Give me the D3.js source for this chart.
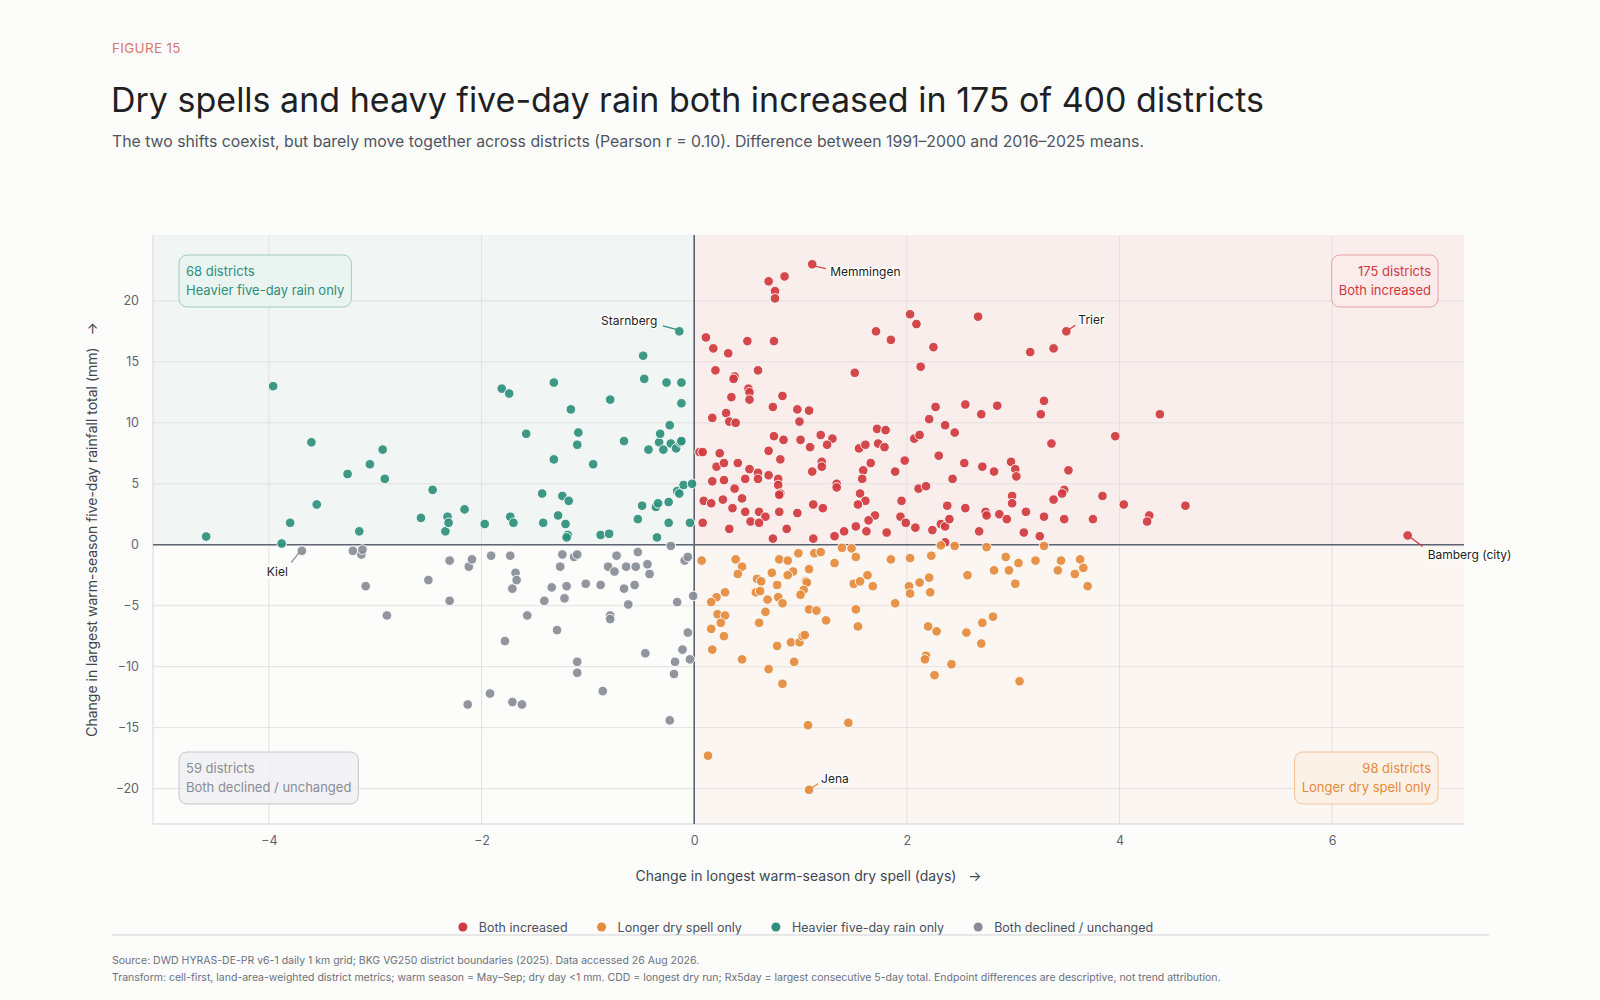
<!DOCTYPE html>
<html><head><meta charset="utf-8">
<script src="https://cdn.jsdelivr.net/npm/d3@7"></script>
<style>
body{margin:0;background:#fcfcfb;font-family:Inter,"Noto Sans",sans-serif;}
</style></head>
<body><div id="chart"></div>
<script>
// x = change in longest dry spell (days), y = change in Rx5day (mm)
var bothIncreased = [
 [1.11,23.0],[0.70,21.6],[0.85,22.0],[0.76,20.8],[0.76,20.2],[2.03,18.9],[2.09,18.1],[2.67,18.7],[0.11,17.0],[0.50,16.7],
 [0.75,16.7],[1.71,17.5],[1.85,16.8],[3.50,17.5],[0.18,16.1],[0.32,15.7],[2.25,16.2],[3.16,15.8],[3.38,16.1],[0.20,14.3],
 [2.13,14.6],[0.60,14.3],[1.51,14.1],[0.38,13.8],[0.37,13.6],[0.51,12.8],[0.52,12.5],[0.52,11.9],[0.35,12.1],[0.83,12.2],
 [0.74,11.3],[0.97,11.1],[1.08,11.0],[0.99,10.1],[0.17,10.4],[0.30,10.8],[0.33,10.1],[0.39,10.0],[2.27,11.3],[2.55,11.5],
 [2.85,11.4],[3.29,11.8],[3.26,10.7],[2.70,10.7],[2.21,10.3],[2.36,9.8],[2.45,9.2],[1.19,9.0],[1.30,8.7],[1.72,9.5],
 [1.80,9.4],[0.75,8.9],[0.84,8.6],[1.00,8.6],[1.09,8.0],[1.25,8.2],[1.55,7.9],[1.61,8.2],[1.73,8.3],[1.79,8.0],
 [2.07,8.7],[2.12,9.0],[3.36,8.3],[0.05,7.6],[0.08,7.6],[0.24,7.5],[0.70,7.7],[0.81,7.0],[0.21,6.4],[0.28,6.7],
 [0.41,6.7],[0.52,6.2],[0.60,5.9],[1.20,6.8],[1.20,6.4],[1.59,6.1],[1.66,6.7],[1.98,6.9],[1.89,6.0],[2.30,7.3],
 [2.54,6.7],[2.71,6.4],[2.82,6.0],[2.98,6.8],[3.02,6.2],[3.03,5.6],[3.52,6.1],[0.17,5.2],[0.28,5.3],[0.48,5.4],
 [0.60,5.4],[0.70,5.7],[0.79,5.4],[1.11,6.0],[1.58,5.4],[2.43,5.4],[1.34,5.0],[1.34,4.7],[0.79,4.9],[0.81,4.2],
 [0.80,4.1],[0.38,4.6],[2.11,4.6],[2.18,4.8],[3.48,4.5],[3.46,4.2],[3.38,3.7],[2.99,4.0],[2.99,3.4],[0.09,3.6],
 [0.16,3.4],[0.27,3.7],[0.45,3.8],[0.36,3.0],[0.48,2.7],[0.61,2.7],[0.67,2.3],[0.53,1.9],[0.61,1.8],[0.08,1.8],
 [0.33,1.3],[0.80,2.7],[0.87,1.3],[0.97,2.6],[1.12,3.3],[1.21,3.0],[1.56,4.2],[1.61,3.6],[1.54,3.3],[1.70,2.4],
 [1.64,2.0],[1.95,3.6],[1.94,2.3],[1.99,1.8],[2.08,1.4],[2.24,1.2],[2.32,1.7],[2.36,1.5],[2.40,2.1],[2.38,3.2],
 [2.55,3.0],[2.74,2.7],[2.75,2.4],[2.87,2.5],[2.94,2.1],[3.12,2.7],[3.29,2.3],[3.48,2.1],[2.68,1.1],[3.10,1.0],
 [3.25,0.7],[1.41,1.1],[1.52,1.5],[1.62,1.1],[1.81,1.0],[0.74,0.5],[1.12,0.5],[1.32,0.7],[2.36,0.2],[3.84,4.0],
 [3.75,2.1],[3.96,8.9],[4.04,3.3],[4.28,2.4],[4.26,1.9],[4.38,10.7],[4.62,3.2],[6.71,0.76]
];
var longerDryOnly = [
 [0.07,-1.3],[0.39,-1.2],[0.45,-1.8],[0.41,-2.4],[0.29,-3.9],[0.21,-4.3],[0.16,-4.7],[0.22,-5.7],[0.29,-5.8],[0.25,-6.4],
 [0.16,-6.9],[0.28,-7.5],[0.17,-8.6],[0.45,-9.4],[0.13,-17.3],[0.80,-1.2],[0.88,-1.3],[0.98,-0.7],[1.13,-0.7],[1.19,-0.6],
 [1.39,-0.25],[1.48,-0.3],[1.52,-1.0],[1.32,-1.5],[1.08,-2.0],[0.93,-2.2],[0.88,-2.5],[0.73,-2.3],[0.59,-2.8],[0.63,-3.0],
 [0.78,-3.3],[1.05,-3.0],[1.06,-3.1],[1.03,-3.7],[1.00,-4.1],[0.58,-3.9],[0.62,-3.8],[0.69,-4.5],[0.79,-4.3],[0.83,-4.8],
 [0.67,-5.5],[0.61,-6.4],[1.08,-5.3],[1.15,-5.4],[1.24,-6.2],[1.52,-5.3],[1.54,-6.7],[1.50,-3.2],[1.56,-3.0],[1.63,-2.5],
 [1.68,-3.4],[1.89,-4.8],[1.85,-1.2],[2.03,-1.1],[2.23,-0.9],[2.45,-0.1],[2.32,-0.05],[2.75,-0.2],[3.29,-0.1],[2.21,-2.7],
 [2.12,-3.1],[2.02,-3.4],[2.03,-4.0],[2.22,-3.9],[2.57,-2.5],[2.82,-2.1],[2.93,-1.0],[2.96,-2.1],[3.05,-1.5],[3.02,-3.2],
 [3.21,-1.3],[3.45,-1.3],[3.42,-2.1],[2.20,-6.7],[2.28,-7.1],[2.56,-7.2],[2.71,-6.4],[2.81,-5.9],[2.70,-8.1],[2.18,-9.1],
 [2.17,-9.4],[2.26,-10.7],[2.42,-9.8],[3.06,-11.2],[0.78,-8.3],[0.91,-8.0],[0.99,-8.0],[1.02,-7.5],[1.04,-7.4],[0.94,-9.6],
 [0.70,-10.2],[0.83,-11.4],[1.07,-14.8],[1.45,-14.6],[1.08,-20.1],[3.63,-1.2],[3.58,-2.4],[3.66,-1.9],[3.70,-3.4]
];
var heavierRainOnly = [
 [-4.59,0.67],[-3.96,13.0],[-3.88,0.1],[-3.80,1.8],[-3.60,8.4],[-3.55,3.3],[-3.26,5.8],[-3.15,1.1],[-3.05,6.6],[-2.93,7.8],
 [-2.91,5.4],[-2.57,2.2],[-2.46,4.5],[-2.34,1.1],[-2.32,2.3],[-2.31,1.8],[-2.16,2.9],[-1.97,1.7],[-1.81,12.8],[-1.74,12.4],
 [-1.73,2.3],[-1.70,1.8],[-1.58,9.1],[-1.43,4.2],[-1.42,1.8],[-1.32,13.3],[-1.32,7.0],[-1.28,2.4],[-1.24,4.0],[-1.21,1.7],
 [-1.19,0.8],[-1.18,3.6],[-1.16,11.1],[-1.10,8.2],[-1.09,9.2],[-0.95,6.6],[-0.88,0.8],[-0.79,11.9],[-0.66,8.5],[-0.53,2.1],
 [-0.49,3.2],[-0.48,15.5],[-0.47,13.6],[-0.43,7.8],[-0.36,3.1],[-0.35,0.6],[-0.34,3.4],[-0.33,8.4],[-0.32,9.1],[-0.29,7.8],
 [-0.26,13.3],[-0.24,3.5],[-0.24,1.8],[-0.23,9.8],[-0.22,8.3],[-0.17,7.9],[-0.16,4.4],[-0.14,17.5],[-0.14,4.2],[-0.13,8.4],
 [-0.12,13.3],[-0.12,11.6],[-0.12,8.5],[-0.10,4.9],[-0.04,1.8],[-0.02,5.0],[-1.20,0.6],[-0.80,0.9]
];
var bothDeclined = [
 [-3.69,-0.5],[-3.21,-0.5],[-3.13,-0.8],[-3.12,-0.4],[-3.09,-3.4],[-2.89,-5.8],[-2.50,-2.9],[-2.30,-1.3],[-2.30,-4.6],[-2.12,-1.8],
 [-2.09,-1.2],[-2.13,-13.1],[-1.91,-0.9],[-1.92,-12.2],[-1.78,-7.9],[-1.73,-0.9],[-1.71,-3.6],[-1.71,-12.9],[-1.68,-2.3],[-1.67,-2.9],
 [-1.62,-13.1],[-1.57,-5.8],[-1.41,-4.6],[-1.34,-3.5],[-1.29,-7.0],[-1.26,-1.8],[-1.24,-0.8],[-1.22,-4.4],[-1.20,-3.4],[-1.13,-1.0],
 [-1.10,-0.8],[-1.10,-9.6],[-1.10,-10.5],[-1.02,-3.2],[-0.88,-3.3],[-0.86,-12.0],[-0.81,-1.8],[-0.79,-5.8],[-0.79,-6.1],[-0.75,-2.2],
 [-0.73,-0.9],[-0.66,-3.6],[-0.64,-1.8],[-0.62,-4.9],[-0.56,-3.3],[-0.55,-1.8],[-0.53,-0.6],[-0.46,-8.9],[-0.44,-1.6],[-0.42,-2.4],
 [-0.23,-14.4],[-0.19,-10.6],[-0.18,-9.6],[-0.16,-4.7],[-0.11,-8.6],[-0.09,-1.3],[-0.06,-1.0],[-0.06,-7.2],[-0.04,-9.4],[-0.01,-4.2],
 [-0.22,-0.1]
];
var groupNames = ["Both increased","Longer dry spell only","Heavier five-day rain only","Both declined / unchanged"];
var groupColors = ["#d0393e","#e68a3c","#2e8f7c","#878c96"];
var groupCounts = [175,98,68,59];
var xTicks = [-4,-2,0,2,4,6];
var yTicks = [-20,-15,-10,-5,0,5,10,15,20];
var labelled = [
 {name:"Memmingen", x:1.11, y:23.0, dx:18, dy:8, anchor:"start"},
 {name:"Starnberg", x:-0.14, y:17.5, dx:-22, dy:-10, anchor:"end"},
 {name:"Trier", x:3.50, y:17.5, dx:12, dy:-11, anchor:"start"},
 {name:"Kiel", x:-3.69, y:-0.5, dx:-14, dy:21, anchor:"end"},
 {name:"Jena", x:1.08, y:-20.1, dx:12, dy:-11, anchor:"start"},
 {name:"Bamberg (city)", x:6.71, y:0.76, dx:20, dy:20, anchor:"start"}
];

var W = 1600, H = 1000;
var margin = {top:235, right:136, bottom:176, left:153},
    width = W - margin.left - margin.right,
    height = H - margin.top - margin.bottom;

var svg = d3.select("#chart").append("svg").attr("width", W).attr("height", H)
    .style("font-family", "Inter, 'Noto Sans', sans-serif");
svg.append("rect").attr("width", W).attr("height", H).attr("fill", "#fcfcfb");

svg.append("text").attr("x", 112).attr("y", 53).attr("fill", "#d9776f")
    .attr("font-size", 13.5).style("letter-spacing", "0.3px").text("FIGURE 15");
svg.append("text").attr("x", 111).attr("y", 112).attr("fill", "#1f1f24")
    .attr("font-size", 34).text("Dry spells and heavy five-day rain both increased in 175 of 400 districts");
svg.append("text").attr("x", 112).attr("y", 147).attr("fill", "#4e5561")
    .attr("font-size", 15.8).text("The two shifts coexist, but barely move together across districts (Pearson r = 0.10). Difference between 1991\u20132000 and 2016\u20132025 means.");

var x = d3.scaleLinear().domain([-5.09, 7.24]).range([0, width]);
var y = d3.scaleLinear().domain([-22.9, 25.4]).range([height, 0]);

var g = svg.append("g").attr("transform", "translate(" + margin.left + "," + margin.top + ")");

// quadrant shading
var quads = [
  {x0:-5.09, x1:0, y0:0, y1:25.4, fill:"#f1f5f3"},
  {x0:0, x1:7.24, y0:0, y1:25.4, fill:"#f9eeec"},
  {x0:0, x1:7.24, y0:-22.9, y1:0, fill:"#fcf6f2"},
  {x0:-5.09, x1:0, y0:-22.9, y1:0, fill:"#fcfcfb"}
];
g.selectAll(".quad").data(quads).enter().append("rect")
    .attr("x", function(d) { return x(d.x0); })
    .attr("y", function(d) { return y(d.y1); })
    .attr("width", function(d) { return x(d.x1) - x(d.x0); })
    .attr("height", function(d) { return y(d.y0) - y(d.y1); })
    .attr("fill", function(d) { return d.fill; });

// grid
g.selectAll(".gx").data(xTicks).enter().append("line")
    .attr("x1", function(d) { return x(d); }).attr("x2", function(d) { return x(d); })
    .attr("y1", 0).attr("y2", height).attr("stroke", "#e3e1df").attr("stroke-width", 1);
g.selectAll(".gy").data(yTicks).enter().append("line")
    .attr("y1", function(d) { return y(d); }).attr("y2", function(d) { return y(d); })
    .attr("x1", 0).attr("x2", width).attr("stroke", "#e3e1df").attr("stroke-width", 1);
g.append("line").attr("x1", 0).attr("x2", 0).attr("y1", 0).attr("y2", height).attr("stroke", "#d5d6dc");
g.append("line").attr("x1", 0).attr("x2", width).attr("y1", height).attr("y2", height).attr("stroke", "#d5d6dc");

var fmt = function(d) { return d < 0 ? "\u2212" + Math.abs(d) : d; };
var xAxis = d3.axisBottom(x).tickValues(xTicks).tickSize(0).tickPadding(12).tickFormat(fmt);
var yAxis = d3.axisLeft(y).tickValues(yTicks).tickSize(0).tickPadding(14).tickFormat(fmt);
var xg = g.append("g").attr("transform", "translate(0," + height + ")").call(xAxis);
var yg = g.append("g").call(yAxis);
[xg, yg].forEach(function(a) {
  a.select(".domain").remove();
  a.selectAll("text").attr("fill", "#5d6470").attr("font-size", 12.5).style("font-family", "Inter, sans-serif");
});

// zero lines
g.append("line").attr("x1", x(0)).attr("x2", x(0)).attr("y1", 0).attr("y2", height).attr("stroke", "#5c6372").attr("stroke-width", 1.6);
g.append("line").attr("x1", 0).attr("x2", width).attr("y1", y(0)).attr("y2", y(0)).attr("stroke", "#5c6372").attr("stroke-width", 1.6);

// axis titles
svg.append("text").attr("x", margin.left + width / 2).attr("y", 881).attr("text-anchor", "middle")
    .attr("fill", "#3f4652").attr("font-size", 14).attr("xml:space", "preserve")
    .text("Change in longest warm-season dry spell (days)   \u2192");
svg.append("text").attr("transform", "translate(97," + (margin.top + height / 2) + ") rotate(-90)")
    .attr("text-anchor", "middle").attr("fill", "#3f4652").attr("font-size", 14).attr("xml:space", "preserve")
    .text("Change in largest warm-season five-day rainfall total (mm)   \u2192");

// points
var groups = [bothIncreased, longerDryOnly, heavierRainOnly, bothDeclined];
groups.forEach(function(pts, i) {
  g.selectAll(".p" + i).data(pts).enter().append("circle")
      .attr("cx", function(d) { return x(d[0]); })
      .attr("cy", function(d) { return y(d[1]); })
      .attr("r", 4.8)
      .attr("fill", groupColors[i]).attr("fill-opacity", 0.92)
      .attr("stroke", "#ffffff").attr("stroke-width", 0.9);
});

// labels
var lab = g.selectAll(".lab").data(labelled).enter().append("g");
lab.append("line")
    .attr("x1", function(d) { return x(d.x) + (d.dx > 0 ? 3 : -3); })
    .attr("y1", function(d) { return y(d.y) + (d.dy > 0 ? 2 : -2); })
    .attr("x2", function(d) { return x(d.x) + d.dx * 0.75; })
    .attr("y2", function(d) { return y(d.y) + d.dy * 0.55; })
    .attr("stroke", function(d) { return d.name == "Starnberg" ? "#2e8f7c" : d.name == "Kiel" ? "#878c96" : d.name == "Jena" ? "#e68a3c" : "#d0393e"; })
    .attr("stroke-width", 1.2);
lab.append("text")
    .attr("x", function(d) { return x(d.x) + d.dx; })
    .attr("y", function(d) { return y(d.y) + d.dy + 4; })
    .attr("text-anchor", function(d) { return d.anchor; })
    .attr("font-size", 12).attr("fill", "#222")
    .attr("stroke", "#ffffff").attr("stroke-width", 3).attr("paint-order", "stroke")
    .text(function(d) { return d.name; });

// quadrant boxes
var boxes = [
  {i:2, left:true, top:true}, {i:0, left:false, top:true},
  {i:3, left:true, top:false}, {i:1, left:false, top:false}
];
var boxFill = ["#fbeaea","#fcf0e4","#e9f3ef","#f0f0f2"];
var boxStroke = ["#eaa2a4","#f1c39a","#9fcdbf","#c3c6cc"];
boxes.forEach(function(b) {
  var lines = [groupCounts[b.i] + " districts", groupNames[b.i]];
  var bg = g.append("g");
  var t = bg.append("text").attr("font-size", 13).attr("fill", groupColors[b.i])
      .attr("text-anchor", b.left ? "start" : "end");
  t.selectAll("tspan").data(lines).enter().append("tspan")
      .attr("x", 0).attr("dy", function(d, k) { return k ? 19 : 0; }).text(function(d) { return d; });
  var w = t.node().getBBox().width + 14, h = 52;
  var bx = b.left ? 26 : width - 26 - w;
  var by = b.top ? 20 : height - 20 - h;
  bg.insert("rect", "text").attr("x", bx).attr("y", by).attr("width", w).attr("height", h)
      .attr("rx", 8).attr("fill", boxFill[b.i]).attr("fill-opacity", 0.85)
      .attr("stroke", boxStroke[b.i]);
  t.attr("transform", "translate(" + (b.left ? bx + 7 : bx + w - 7) + "," + (by + 21) + ")");
});

// legend
var leg = svg.append("g");
var lx = 0;
groupNames.forEach(function(n, i) {
  var it = leg.append("g").attr("transform", "translate(" + lx + ",0)");
  it.append("circle").attr("cx", 0).attr("cy", 0).attr("r", 4.5).attr("fill", groupColors[i]);
  var tt = it.append("text").attr("x", 16).attr("y", 4.5).attr("font-size", 12.5).attr("fill", "#4a505b").text(n);
  lx += 16 + tt.node().getBBox().width + 34;
});
leg.attr("transform", "translate(" + (808 - (lx - 34) / 2) + ",927)");

svg.append("line").attr("x1", 112).attr("x2", 1489).attr("y1", 935).attr("y2", 935).attr("stroke", "#d3d3d6");
svg.append("text").attr("x", 112).attr("y", 964).attr("font-size", 10.5).attr("fill", "#6b717b")
    .text("Source: DWD HYRAS-DE-PR v6-1 daily 1 km grid; BKG VG250 district boundaries (2025). Data accessed 26 Aug 2026.");
svg.append("text").attr("x", 112).attr("y", 981).attr("font-size", 10.5).attr("fill", "#6b717b")
    .text("Transform: cell-first, land-area-weighted district metrics; warm season = May\u2013Sep; dry day <1 mm. CDD = longest dry run; Rx5day = largest consecutive 5-day total. Endpoint differences are descriptive, not trend attribution.");
</script></body></html>
